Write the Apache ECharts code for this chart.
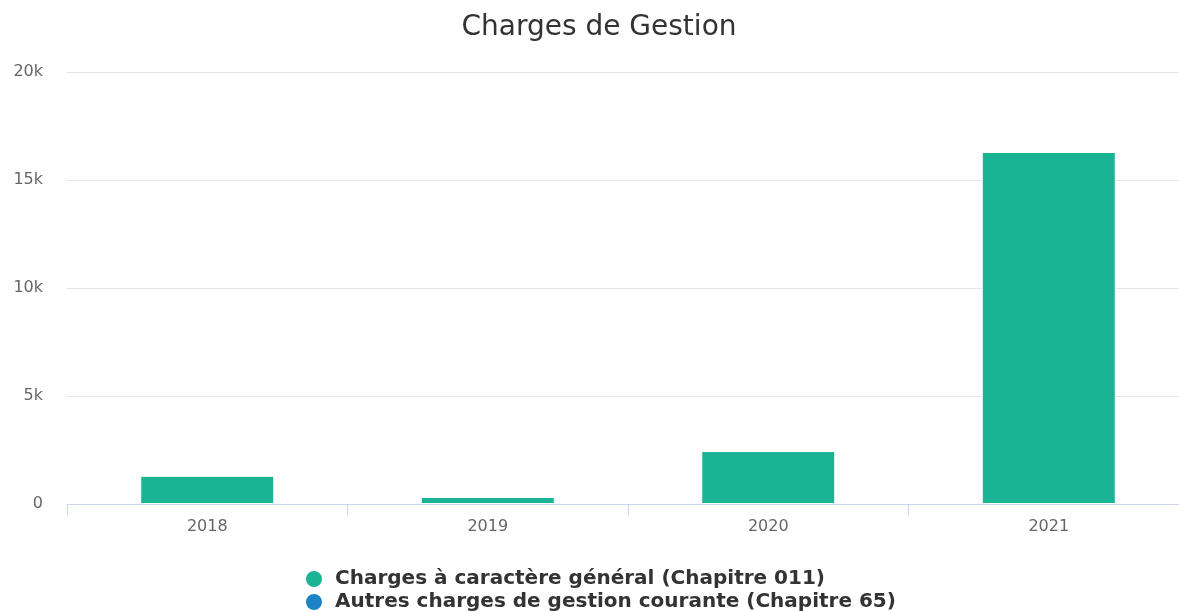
<!DOCTYPE html>
<html>
<head>
<meta charset="utf-8">
<script src="https://cdn.jsdelivr.net/npm/echarts@6/dist/echarts.min.js"></script>
<style>
  html, body { margin: 0; padding: 0; background: #fff; overflow: hidden; }
  #chart { width: 1189px; height: 611px; }
</style>
</head>
<body>
<div id="chart"></div>
<script>
var years = ['2018', '2019', '2020', '2021'];
var chargesGenerales = [1310, 330, 2450, 16300];
var autresCharges = [0, 0, 0, 0];
var seriesNames = ['Charges à caractère général (Chapitre 011)', 'Autres charges de gestion courante (Chapitre 65)'];

var chartDom = document.getElementById('chart');
var myChart = echarts.init(chartDom);
var option;

option = {
    animation: false,
    textStyle: { fontFamily: 'DejaVu Sans' },
    title: {
        text: 'Charges de Gestion',
        left: 594,
        top: 9,
        textAlign: 'center',
        textStyle: { fontSize: 28, fontWeight: 'normal', color: '#333333', fontFamily: 'DejaVu Sans' }
    },
    legend: {
        orient: 'vertical',
        left: 304,
        top: 569,
        height: 60,
        padding: 0,
        itemGap: 3,
        itemWidth: 18,
        itemHeight: 18,
        icon: 'circle',
        data: seriesNames,
        textStyle: {
            fontSize: 20,
            lineHeight: 20,
            fontWeight: 'bold',
            color: '#333333',
            fontFamily: 'DejaVu Sans',
            padding: [0, 0, 0, 7]
        }
    },
    grid: {
        left: 67,
        right: 0,
        top: 72,
        bottom: 107,
        containLabel: false
    },
    xAxis: {
        type: 'category',
        data: years,
        axisLine: { lineStyle: { color: '#ccd6eb' } },
        axisTick: { show: true, length: 11, lineStyle: { color: '#ccd6eb' } },
        axisLabel: { color: '#666666', fontSize: 16, margin: 15 }
    },
    yAxis: {
        type: 'value',
        min: 0,
        max: 20000,
        interval: 5000,
        axisLine: { show: false },
        axisTick: { show: false },
        splitLine: { lineStyle: { color: '#e6e6e6' } },
        axisLabel: {
            color: '#666666',
            fontSize: 16,
            margin: 24,
            formatter: function (v) { return v === 0 ? '0' : (v / 1000) + 'k'; }
        }
    },
    series: [
        {
            name: seriesNames[0],
            type: 'bar',
            stack: 'total',
            barWidth: 134,
            itemStyle: { color: '#1ab394', borderColor: '#ffffff', borderWidth: 1 },
            data: chargesGenerales
        },
        {
            name: seriesNames[1],
            type: 'bar',
            stack: 'total',
            barWidth: 134,
            itemStyle: { color: '#1c84c6', borderColor: '#ffffff', borderWidth: 1 },
            data: autresCharges
        }
    ]
};

if (option && typeof option === 'object') {
    myChart.setOption(option);
}
</script>
</body>
</html>
